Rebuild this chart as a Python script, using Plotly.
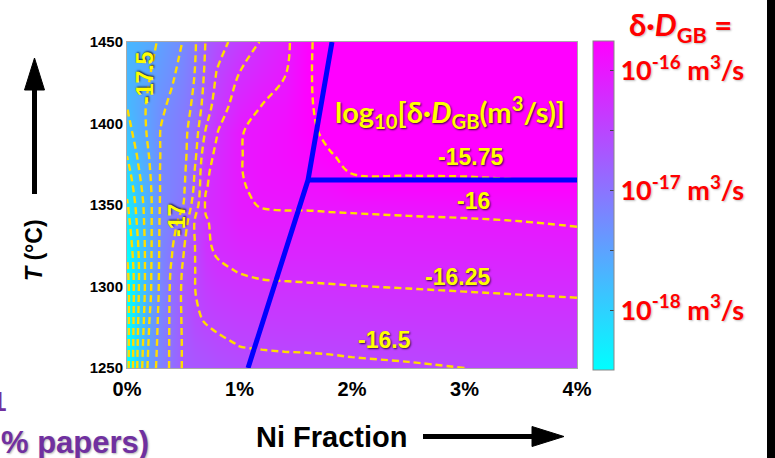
import plotly.graph_objects as go

# ---------------- data ----------------
ni_pct = [0, 0.1, 0.2, 0.3, 0.4, 0.5, 0.6, 0.7, 0.8, 1.0, 1.2, 1.4, 1.6, 1.8, 2.0, 2.5, 3.0, 3.5, 4.0]
temps = [1250, 1265, 1280, 1295, 1310, 1325, 1340, 1350, 1360, 1370, 1380, 1395, 1410, 1430, 1450]

# log10[delta * D_GB (m^3/s)], rows follow temps, columns follow ni_pct
log_d = [
    [-18.60, -17.94, -17.40, -17.14, -16.95, -16.72, -16.68, -16.66, -16.62, -16.58, -16.56, -16.56, -16.55, -16.55, -16.54, -16.52, -16.50, -16.49, -16.48],
    [-18.60, -17.97, -17.45, -17.15, -16.95, -16.72, -16.62, -16.58, -16.54, -16.49, -16.48, -16.47, -16.47, -16.46, -16.45, -16.44, -16.42, -16.41, -16.40],
    [-18.60, -18.00, -17.50, -17.16, -16.95, -16.71, -16.54, -16.48, -16.45, -16.41, -16.39, -16.38, -16.38, -16.37, -16.37, -16.35, -16.34, -16.33, -16.32],
    [-18.60, -18.02, -17.55, -17.18, -16.95, -16.70, -16.51, -16.42, -16.37, -16.32, -16.30, -16.30, -16.29, -16.29, -16.28, -16.27, -16.26, -16.25, -16.24],
    [-18.55, -18.03, -17.56, -17.19, -16.97, -16.72, -16.51, -16.35, -16.28, -16.24, -16.22, -16.21, -16.21, -16.20, -16.20, -16.19, -16.18, -16.17, -16.16],
    [-18.45, -18.00, -17.57, -17.20, -17.02, -16.78, -16.51, -16.28, -16.22, -16.15, -16.13, -16.12, -16.12, -16.12, -16.11, -16.11, -16.10, -16.09, -16.07],
    [-18.35, -17.94, -17.57, -17.21, -17.08, -16.92, -16.50, -16.27, -16.19, -16.06, -16.04, -16.04, -16.04, -16.04, -16.04, -16.03, -16.02, -16.00, -15.98],
    [-18.28, -17.90, -17.57, -17.22, -17.11, -17.00, -16.65, -16.22, -16.18, -16.03, -15.99, -15.98, -15.98, -15.97, -15.96, -15.94, -15.92, -15.90, -15.89],
    [-18.20, -17.84, -17.55, -17.23, -17.13, -17.04, -16.72, -16.26, -16.18, -16.02, -15.96, -15.94, -15.93, -15.90, -15.84, -15.83, -15.81, -15.79, -15.79],
    [-18.10, -17.78, -17.52, -17.23, -17.14, -17.06, -16.75, -16.28, -16.19, -16.01, -15.94, -15.91, -15.88, -15.83, -15.74, -15.73, -15.73, -15.72, -15.72],
    [-18.00, -17.72, -17.49, -17.24, -17.15, -17.07, -16.82, -16.32, -16.21, -16.01, -15.94, -15.89, -15.83, -15.76, -15.72, -15.72, -15.72, -15.71, -15.71],
    [-17.85, -17.63, -17.45, -17.24, -17.16, -17.07, -16.88, -16.48, -16.26, -16.01, -15.96, -15.89, -15.78, -15.72, -15.70, -15.70, -15.70, -15.70, -15.69],
    [-17.75, -17.60, -17.45, -17.29, -17.20, -17.10, -16.95, -16.62, -16.38, -16.12, -15.99, -15.93, -15.77, -15.70, -15.69, -15.68, -15.68, -15.67, -15.67],
    [-17.73, -17.63, -17.51, -17.38, -17.28, -17.17, -17.00, -16.70, -16.48, -16.24, -16.12, -16.01, -15.77, -15.68, -15.66, -15.65, -15.65, -15.64, -15.64],
    [-17.72, -17.66, -17.57, -17.46, -17.35, -17.24, -17.04, -16.74, -16.60, -16.40, -16.23, -16.07, -15.78, -15.66, -15.63, -15.62, -15.62, -15.61, -15.60],
]

# regime boundaries (blue lines)
boundary_x = [1.076, 1.609, 1.822]
boundary_T = [1250, 1365.3, 1450]
transition_x = [1.609, 4.0]
transition_T = [1365.3, 1365.3]

x_tick_vals = [0, 1, 2, 3, 4]
x_tick_text = ["0%", "1%", "2%", "3%", "4%"]
y_tick_vals = [1250, 1300, 1350, 1400, 1450]

cb_tick_vals = [-16, -16.5, -17, -17.5, -18]
cb_tick_text = ["10<sup>-16</sup> m<sup>3</sup>/s", "", "10<sup>-17</sup> m<sup>3</sup>/s", "",
                "10<sup>-18</sup> m<sup>3</sup>/s"]

# ---------------- figure ----------------
W, H = 775, 458
ML, MR, MT, MB = 127, 198, 42, 90
PW, PH = W - ML - MR, H - MT - MB   # 450 x 326


def px(xp):
    """page pixel x -> paper fraction"""
    return (xp - ML) / PW


def py(yp):
    """page pixel y -> paper fraction"""
    return (H - MB - yp) / PH


cool = [[0, "rgb(0,255,255)"], [1, "rgb(255,0,255)"]]

fig = go.Figure()

fig.add_trace(go.Heatmap(
    x=ni_pct, y=temps, z=log_d, zsmooth="best",
    colorscale=cool, zmin=-18.5, zmax=-15.75, zauto=False,
    hoverinfo="skip",
    colorbar=dict(
        thickness=21, thicknessmode="pixels",
        len=1.009, lenmode="fraction",
        x=px(593), xanchor="left", y=py(205.5), yanchor="middle",
        xpad=0, ypad=0,
        outlinewidth=1, outlinecolor="#888",
        tickmode="array", tickvals=cb_tick_vals, ticktext=cb_tick_text,
        ticks="inside", ticklen=4, tickcolor="#444",
        tickfont=dict(family="Lato", size=27, color="rgb(255,0,0)", weight="bold",
                      shadow="1px 1px 2px rgba(0,0,0,0.25)"),
    ),
))

fig.add_trace(go.Contour(
    x=ni_pct, y=temps, z=log_d,
    autocontour=False, showscale=False,
    contours=dict(start=-18.5, end=-15.75, size=0.25, coloring="none", showlabels=False),
    line=dict(color="rgb(255,222,0)", width=2.4, dash="7px,4px"),
    hoverinfo="skip",
))

fig.add_trace(go.Scatter(x=boundary_x, y=boundary_T, mode="lines",
                         line=dict(color="rgb(0,0,255)", width=5),
                         showlegend=False, hoverinfo="skip"))
fig.add_trace(go.Scatter(x=transition_x, y=transition_T, mode="lines",
                         line=dict(color="rgb(0,0,255)", width=5),
                         showlegend=False, hoverinfo="skip"))

yellow = "rgb(255,255,0)"
shadow = "1px 1px 2px rgba(0,0,0,0.75)"
annotations = [
    dict(x=2.87, y=1407, xref="x", yref="y",
         text="log<sub>10</sub>[δ·<i>D</i><sub>GB</sub>(m<sup>3</sup>/s)]",
         font=dict(family="Lato", size=29, color=yellow, weight="bold", shadow=shadow)),
]
for txt, lx, ly, ang in [("-15.75", 3.05, 1379.4, 0), ("-16", 3.08, 1352.5, 0),
                         ("-16.25", 2.94, 1305.8, 0), ("-16.5", 2.29, 1267, 0),
                         ("-17", 0.444, 1340.8, -90), ("-17.5", 0.16, 1427.9, -90)]:
    annotations.append(dict(x=lx, y=ly, xref="x", yref="y", text=txt, textangle=ang,
                            font=dict(family="Liberation Sans", size=23, color=yellow,
                                      weight="bold", shadow=shadow)))

annotations += [
    dict(x=px(680), y=py(26), xref="paper", yref="paper",
         text="δ·<i>D</i><sub>GB</sub> =",
         font=dict(family="Lato", size=31, color="rgb(255,0,0)", weight="bold",
                   shadow="1px 1px 2px rgba(0,0,0,0.25)")),
    dict(x=px(34), y=py(250), xref="paper", yref="paper", text="<i>T</i> (°C)", textangle=-90,
         font=dict(family="Liberation Sans", size=23, color="black", weight="bold")),
    dict(x=px(331), y=py(437), xref="paper", yref="paper", text="Ni Fraction",
         font=dict(family="Liberation Sans", size=29, color="black", weight="bold")),
    dict(x=px(151), y=py(442), xref="paper", yref="paper", xanchor="right",
         text="% papers)",
         font=dict(family="Liberation Sans", size=31, color="rgb(112,48,160)", weight="bold",
                   shadow="1px 1px 2px rgba(0,0,0,0.3)")),
    dict(x=px(9), y=py(401), xref="paper", yref="paper", xanchor="right",
         text="1",
         font=dict(family="Liberation Sans", size=28, color="rgb(112,48,160)", weight="bold")),
]
for a in annotations:
    a["showarrow"] = False
    a.setdefault("xanchor", "center")
    a.setdefault("yanchor", "middle")

shapes = [
    # T arrow
    dict(type="line", xref="paper", yref="paper", x0=px(34.5), x1=px(34.5), y0=py(194), y1=py(86),
         line=dict(color="black", width=5)),
    dict(type="path", xref="paper", yref="paper",
         path=f"M {px(24.5)},{py(90)} L {px(44.5)},{py(90)} L {px(34.5)},{py(58)} Z",
         fillcolor="black", line=dict(color="black", width=1)),
    # Ni fraction arrow
    dict(type="line", xref="paper", yref="paper", x0=px(423), x1=px(536), y0=py(436.5), y1=py(436.5),
         line=dict(color="black", width=5)),
    dict(type="path", xref="paper", yref="paper",
         path=f"M {px(532)},{py(426.5)} L {px(532)},{py(446.5)} L {px(564)},{py(436.5)} Z",
         fillcolor="black", line=dict(color="black", width=1)),
    # dark strip at right edge
    dict(type="rect", xref="paper", yref="paper", x0=px(767), x1=px(790), y0=py(480), y1=py(-20),
         fillcolor="black", line=dict(width=0)),
]

fig.update_layout(
    width=W, height=H,
    margin=dict(l=ML, r=MR, t=MT, b=MB, autoexpand=False),
    paper_bgcolor="white", plot_bgcolor="white",
    showlegend=False,
    annotations=annotations,
    shapes=shapes,
    xaxis=dict(range=[0, 4], tickmode="array", tickvals=x_tick_vals, ticktext=x_tick_text,
               tickfont=dict(family="Liberation Sans", size=20, color="black", weight="bold"),
               showgrid=False, zeroline=False, showline=True, linecolor="#aaa", linewidth=1,
               mirror=True, ticks="outside", ticklen=3, tickcolor="rgba(0,0,0,0)"),
    yaxis=dict(range=[1250, 1450], tickmode="array", tickvals=y_tick_vals,
               tickfont=dict(family="Liberation Sans", size=15, color="black", weight="bold"),
               showgrid=False, zeroline=False, showline=True, linecolor="#aaa", linewidth=1,
               mirror=True, ticks=""),
)

fig.write_html(
    "out.html",
    config={"displayModeBar": False},
    post_script="document.body.style.margin='0';"
                "document.body.style.overflow='hidden';"
                "document.documentElement.style.overflow='hidden';",
)
